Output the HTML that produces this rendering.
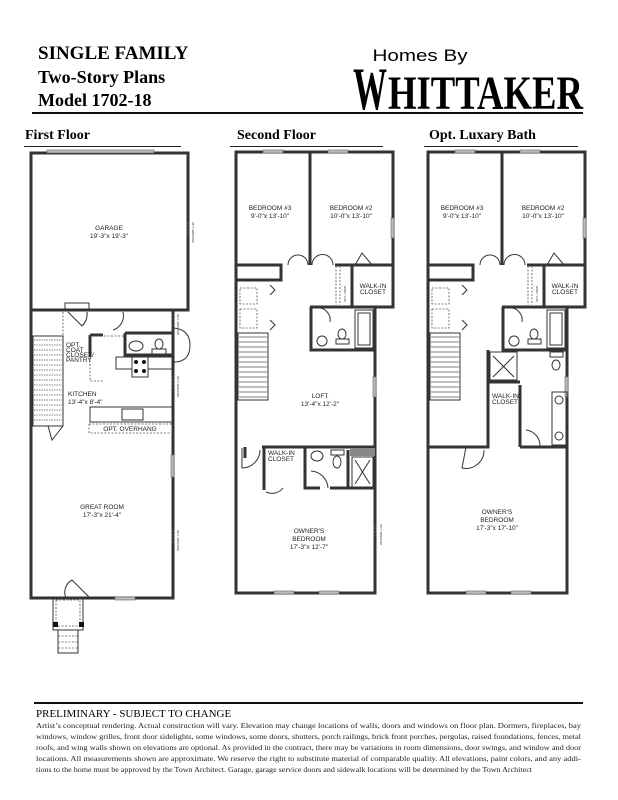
<!DOCTYPE html>
<html><head><meta charset="utf-8"><style>
html,body{margin:0;padding:0;background:#fff;width:618px;height:800px;overflow:hidden}
svg{display:block}
.t{font-family:"Liberation Serif",serif;font-weight:bold}
.s{font-family:"Liberation Sans",sans-serif;font-size:6.5px;fill:#222}
.w{fill:none;stroke:#333;stroke-width:3}
.l{fill:none;stroke:#333;stroke-width:1}
.d{fill:none;stroke:#555;stroke-width:0.8;stroke-dasharray:2 1.5}
.win{fill:#bbb;stroke:#666;stroke-width:.6}
.ow{font-family:"Liberation Sans",sans-serif;font-size:3px;fill:#333}
</style></head><body>
<svg width="618" height="800" viewBox="0 0 618 800" xmlns="http://www.w3.org/2000/svg">
<!-- header -->
<text class="t" x="38" y="59" font-size="19">SINGLE FAMILY</text>
<text class="t" x="38" y="83" font-size="18">Two-Story Plans</text>
<text class="t" x="38" y="106" font-size="18">Model 1702-18</text>
<text x="420" y="61" font-family="Liberation Sans,sans-serif" font-size="17" text-anchor="middle" textLength="95" lengthAdjust="spacingAndGlyphs">Homes By</text>
<text x="353" y="109" font-family="Liberation Serif,serif" font-weight="bold" font-size="60" textLength="34" lengthAdjust="spacingAndGlyphs">W</text>
<text x="388" y="109" font-family="Liberation Serif,serif" font-weight="bold" font-size="48" textLength="195" lengthAdjust="spacingAndGlyphs">HITTAKER</text>
<rect x="32" y="112" width="551" height="2" fill="#111"/>
<text class="t" x="25" y="139" font-size="14">First Floor</text>
<text class="t" x="237" y="139" font-size="14">Second Floor</text>
<text class="t" x="429" y="139" font-size="14">Opt. Luxary Bath</text>
<rect x="24" y="146" width="157" height="1" fill="#222"/>
<rect x="230" y="146" width="153" height="1" fill="#222"/>
<rect x="424" y="146" width="154" height="1" fill="#222"/>

<!-- FIRST FLOOR -->
<rect class="w" x="31" y="153" width="157" height="157"/>
<rect class="win" x="47" y="150" width="107" height="3"/>
<path class="w" d="M31 310 V598 H173 V310"/>
<rect class="win" x="115" y="597" width="20" height="3"/>
<rect class="win" x="171" y="455" width="3" height="22"/>
<text class="s" x="109" y="230" text-anchor="middle" font-size="7">GARAGE</text>
<text class="s" x="109" y="238" text-anchor="middle" font-size="7">19'-3"x 19'-3"</text>
<text class="s" x="102" y="509" text-anchor="middle" font-size="7">GREAT ROOM</text>
<text class="s" x="102" y="517" text-anchor="middle" font-size="7">17'-3"x 21'-4"</text>
<text class="s" x="68" y="396" font-size="7">KITCHEN</text>
<text class="s" x="68" y="404" font-size="7">13'-4"x 8'-4"</text>
<!-- stairs -->
<rect class="l" x="33" y="336" width="30" height="90"/>
<g stroke="#555" stroke-width=".7" stroke-dasharray="1.5 1">
<path d="M34 340H62M34 345H62M34 350H62M34 355H62M34 360H62M34 365H62M34 370H62M34 375H62M34 380H62M34 385H62M34 390H62M34 395H62M34 400H62M34 405H62M34 410H62M34 415H62M34 420H62"/></g>
<path class="d" d="M63 312 V336"/>
<path class="l" d="M48 426 L52 440 L63 426"/>
<!-- garage door -->
<rect class="l" x="65" y="303" width="24" height="7"/>
<path class="l" d="M68 312 L82 326 M82 326 A17 17 0 0 0 87 312"/>
<path class="l" d="M123 312 A15 15 0 0 1 113 330"/>
<!-- powder -->
<path class="w" d="M90 335 V357 M90 335 H103"/>
<path class="w" d="M125 333 H172 M125 333 V355 H172"/>
<ellipse class="l" cx="136" cy="346" rx="7" ry="5"/>
<ellipse class="l" cx="159" cy="344" rx="4" ry="5"/>
<rect class="l" x="152" y="349" width="14" height="5"/>
<path class="d" d="M90 336 H124 M90 357 V381 H104"/>
<text class="s" x="66" y="347" font-size="4">OPT.</text>
<text class="s" x="66" y="352" font-size="4">COAT</text>
<text class="s" x="66" y="357" font-size="4">CLOSET/</text>
<text class="s" x="66" y="362" font-size="4">PANTRY</text>
<rect class="l" x="116" y="357" width="56" height="12"/>
<rect x="132" y="357" width="16" height="20" fill="#fff" stroke="#333"/>
<circle cx="136" cy="362" r="2" fill="#111"/><circle cx="144" cy="362" r="2" fill="#111"/><circle cx="136" cy="371" r="2" fill="#111"/><circle cx="144" cy="371" r="2" fill="#111"/>
<path d="M174 328 Q190 330 190 345 Q190 362 174 362" class="l"/>
<!-- island -->
<rect class="l" x="90" y="407" width="82" height="15"/>
<rect class="l" x="122" y="409" width="21" height="11"/>
<rect class="d" x="89" y="424" width="83" height="9"/>
<text class="s" x="130" y="431" text-anchor="middle" font-size="4">OPT. OVERHANG</text>
<!-- front door / porch -->
<path class="l" d="M66 598 A14 14 0 0 1 72 580 L90 598"/>
<rect class="l" x="53" y="598" width="30" height="32"/>
<rect class="d" x="56" y="600" width="24" height="26"/>
<rect x="53" y="622" width="5" height="5" fill="#111"/><rect x="79" y="622" width="5" height="5" fill="#111"/>
<rect class="l" x="58" y="630" width="20" height="23"/>
<path class="d" d="M58 636H78M58 642H78M58 648H78"/>
<g>
<path class="d" d="M187 222V236M189 222V236M172 314V328M174 314V328M172 376V390M174 376V390M172 530V544M174 530V544"/>
<text class="ow" x="192" y="222" transform="rotate(90 192 222)">OPT. WINDOW</text>
<text class="ow" x="177" y="314" transform="rotate(90 177 314)">OPT. WINDOW</text>
<text class="ow" x="177" y="376" transform="rotate(90 177 376)">OPT. WINDOW</text>
<text class="ow" x="177" y="530" transform="rotate(90 177 530)">OPT. WINDOW</text></g>

<!-- SECOND FLOOR -->
<g id="sf">
<path class="w" d="M236 152 H393 V307 H375 V593 H236 Z"/>
<rect class="win" x="263" y="150" width="20" height="3"/>
<rect class="win" x="328" y="150" width="20" height="3"/>
<rect class="win" x="391" y="218" width="3" height="20"/>
<rect class="win" x="274" y="591" width="20" height="3"/>
<rect class="win" x="319" y="591" width="20" height="3"/>
<rect class="win" x="373" y="377" width="3" height="20"/>
<path class="w" d="M310 152 V265"/>
<path class="w" d="M236 265 H281 V280 H236 M335 265 H393 M352 265 V307"/>
<path class="l" d="M288 265 A10 10 0 0 1 308 265 M312 265 A10 10 0 0 1 333 265 M355 265 L362 253 L372 265"/>
<path class="d" d="M336 266 V305 M340 266 V305"/>
<text class="ow" x="346" y="302" transform="rotate(-90 346 302)">OPT. LINEN</text>
<text class="s" x="270" y="210" text-anchor="middle">BEDROOM #3</text>
<text class="s" x="270" y="218" text-anchor="middle">9'-0"x 13'-10"</text>
<text class="s" x="351" y="210" text-anchor="middle">BEDROOM #2</text>
<text class="s" x="351" y="218" text-anchor="middle">10'-0"x 13'-10"</text>
<text class="s" x="373" y="288" text-anchor="middle" font-size="5">WALK-IN</text>
<text class="s" x="373" y="294" text-anchor="middle" font-size="5">CLOSET</text>
<rect class="d" x="240" y="288" width="17" height="16"/>
<rect class="d" x="240" y="309" width="17" height="19"/>
<path class="l" d="M270 285 L275 290 L270 295 M270 320 L275 325 L270 330"/>
<path class="w" d="M310 307 H375 M311 307 V350 H375"/>
<path class="l" d="M317 308 A12 12 0 0 1 330 322"/>
<rect class="l" x="355" y="310" width="18" height="38"/>
<rect class="l" x="358" y="313" width="12" height="32"/>
<circle class="l" cx="322" cy="341" r="5"/>
<ellipse class="l" cx="342" cy="334" rx="4" ry="5"/><rect class="l" x="336" y="339" width="13" height="5"/>
<rect class="l" x="238" y="333" width="30" height="67"/>
<path stroke="#555" stroke-width=".7" d="M239 337H267M239 342H267M239 347H267M239 352H267M239 357H267M239 362H267M239 367H267M239 372H267M239 377H267M239 382H267M239 387H267M239 392H267M239 397H267"/>
</g>
<text class="s" x="320" y="398" text-anchor="middle">LOFT</text>
<text class="s" x="320" y="406" text-anchor="middle">13'-4"x 12'-2"</text>
<path class="w" d="M262 447 H375 M264 447 V490 M305 447 V488 H320 M330 488 H375 M245 447 V458 M348 450 V488"/>
<path class="l" d="M242 448 V468 A18 18 0 0 0 260 450 M266 492 A14 14 0 0 0 283 488 M311 471 A18 18 0 0 1 328 488"/>
<rect x="350" y="448" width="25" height="8" fill="#888"/>
<rect class="l" x="352" y="457" width="21" height="30"/>
<path class="l" d="M355 460 L370 484 M370 460 L355 484"/>
<ellipse class="l" cx="317" cy="456" rx="6" ry="5"/>
<ellipse class="l" cx="337" cy="462" rx="4" ry="6"/><rect class="l" x="331" y="450" width="13" height="5"/>
<text class="s" x="268" y="455" font-size="5">WALK-IN</text>
<text class="s" x="268" y="461" font-size="5">CLOSET</text>
<text class="s" x="309" y="533" text-anchor="middle">OWNER'S</text>
<text class="s" x="309" y="541" text-anchor="middle">BEDROOM</text>
<text class="s" x="309" y="549" text-anchor="middle">17'-3"x 12'-7"</text>
<path class="d" d="M374 524V538M376 524V538"/>
<text class="ow" x="380" y="524" transform="rotate(90 380 524)">OPT. WINDOW</text>

<!-- THIRD -->
<use href="#sf" x="192" y="0"/>
<path class="w" d="M488 350 V447 H428 M520 447 H567 M520 385 V447 M488 382 H520"/>
<rect class="l" x="490" y="352" width="27" height="28"/>
<path class="l" d="M493 356 L514 377 M514 356 L493 377"/>
<rect class="l" x="552" y="392" width="15" height="53"/>
<circle class="l" cx="559" cy="400" r="4"/><circle class="l" cx="559" cy="436" r="4"/>
<ellipse class="l" cx="556" cy="365" rx="4" ry="5"/><rect class="l" x="550" y="352" width="13" height="5"/>
<path class="l" d="M466 447 L462 468 A18 18 0 0 0 484 450 M526 430 A16 16 0 0 1 540 447"/>
<text class="s" x="492" y="398" font-size="4.3">WALK-IN</text>
<text class="s" x="492" y="404" font-size="4.3">CLOSET</text>
<text class="s" x="497" y="514" text-anchor="middle">OWNER'S</text>
<text class="s" x="497" y="522" text-anchor="middle">BEDROOM</text>
<text class="s" x="497" y="530" text-anchor="middle">17'-3"x 17'-10"</text>

<!-- footer -->
<rect x="34" y="702" width="549" height="2" fill="#111"/>
<text x="36" y="717" font-family="Liberation Serif,serif" font-size="11">PRELIMINARY - SUBJECT TO CHANGE</text>
<g font-family="Liberation Serif,serif" font-size="7.8" fill="#222">
<text x="36" y="728" textLength="545" lengthAdjust="spacingAndGlyphs">Artist’s conceptual rendering.  Actual construction will vary.  Elevation may change locations of walls, doors and windows on floor plan.  Dormers, fireplaces, bay</text>
<text x="36" y="739" textLength="545" lengthAdjust="spacingAndGlyphs">windows, window grilles, front door sidelights, some windows, some doors, shutters, porch railings, brick front porches, pergolas, raised foundations, fences, metal</text>
<text x="36" y="750" textLength="545" lengthAdjust="spacingAndGlyphs">roofs, and wing walls shown on elevations are optional.  As provided in the contract, there may be variations in room dimensions, door swings, and window and door</text>
<text x="36" y="761" textLength="545" lengthAdjust="spacingAndGlyphs">locations.  All measurements shown are approximate.  We reserve the right to substitute material of comparable quality.  All elevations, paint colors, and any addi-</text>
<text x="36" y="772" textLength="496" lengthAdjust="spacingAndGlyphs">tions to the home must be approved by the Town Architect.  Garage, garage service doors and sidewalk locations will be determined by the Town Architect</text>
</g>
</svg>
</body></html>
